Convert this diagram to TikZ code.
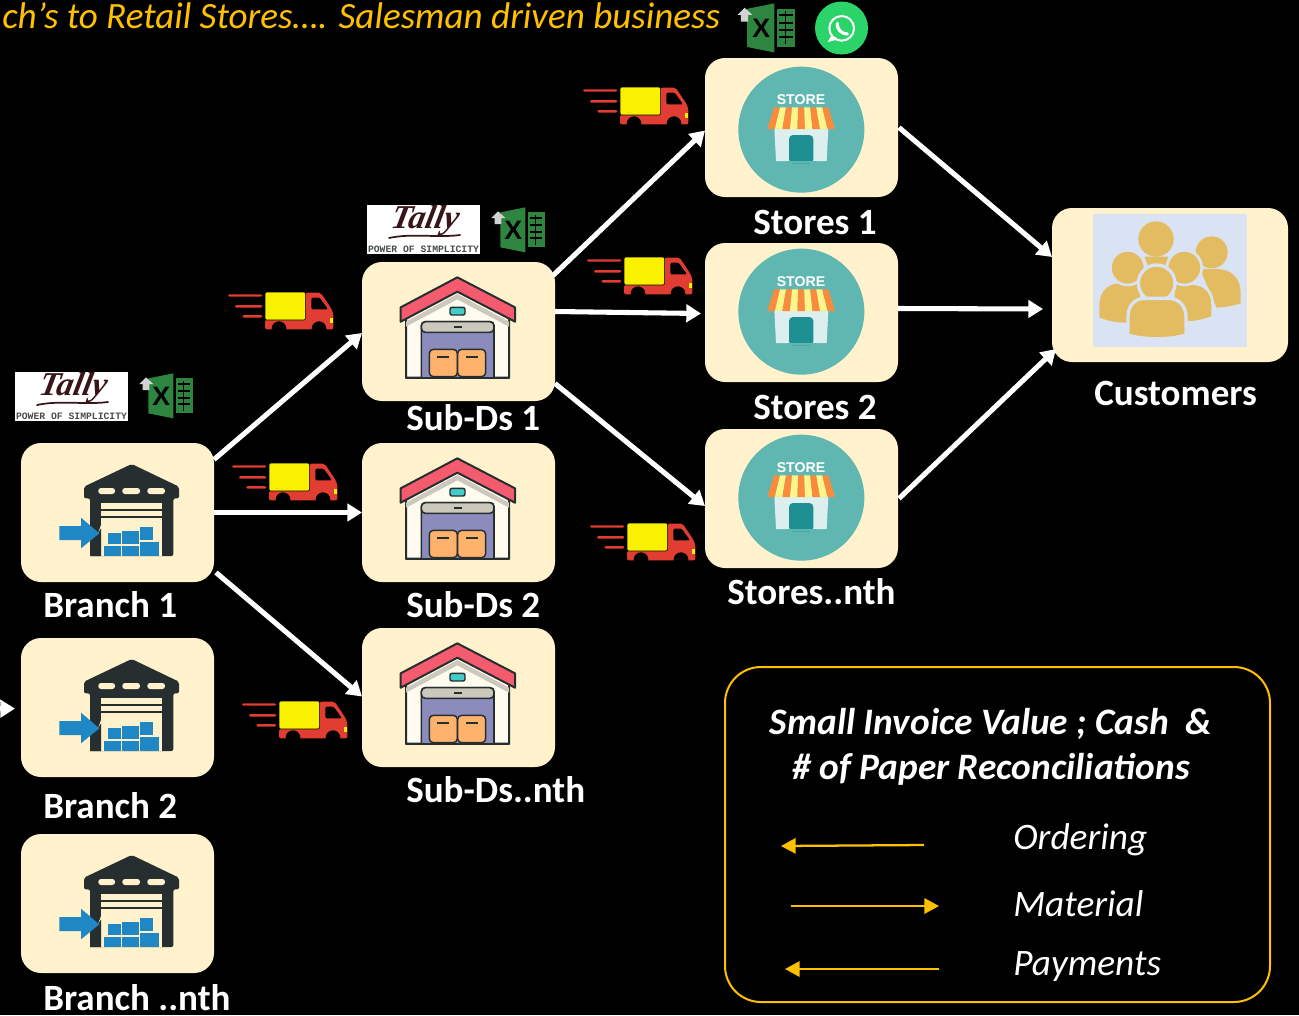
\documentclass[tikz,border=0pt]{standalone}
\usepackage{fontspec}
\setmainfont{Carlito}
\newfontfamily\tallyfont{Liberation Serif}
\newfontfamily\arialfont{Liberation Sans}
\newfontfamily\monofont{Liberation Mono}
\usetikzlibrary{arrows.meta}
\definecolor{cardc}{HTML}{FFF2CC}
\definecolor{goldc}{HTML}{FFC000}
\definecolor{darkc}{HTML}{262E30}
\definecolor{bluec}{HTML}{1F87C4}
\definecolor{redc}{HTML}{E23D32}
\definecolor{yelc}{HTML}{F9F100}
\definecolor{roofc}{HTML}{F45B6E}
\definecolor{wallc}{HTML}{FFFBEF}
\definecolor{lavc}{HTML}{8B8BBC}
\definecolor{grayc}{HTML}{CCC9BC}
\definecolor{orgc}{HTML}{FFB26B}
\definecolor{tealc}{HTML}{60B7B1}
\definecolor{doorc}{HTML}{1E8F92}
\definecolor{awnoc}{HTML}{FB8B3C}
\definecolor{awnyc}{HTML}{FFF58A}
\definecolor{bldc}{HTML}{DCEFEE}
\definecolor{custbg}{HTML}{DAE3F3}
\definecolor{peoplec}{HTML}{E3BC62}
\definecolor{xlc}{HTML}{2E8540}
\definecolor{wac}{HTML}{2AD468}
\definecolor{tallyc}{HTML}{3A1518}
\tikzset{
  x=.75pt,y=-.75pt,
  card/.style={fill=cardc,draw=none,rounded corners=15pt,minimum width=144.75pt,minimum height=104.25pt,inner sep=0pt,outer sep=0pt,anchor=north west},
  lbl/.style={text=white,font=\fontsize{27.8}{30}\selectfont\bfseries,anchor=base west,inner sep=0pt},
  flow/.style={draw=white,line width=3.8pt,-{Triangle[length=11pt,width=13pt]}},
  key/.style={draw=goldc,line width=1.7pt,-{Triangle[length=11pt,width=11.5pt]}},
  keytext/.style={text=white,font=\fontsize{28}{30}\selectfont\itshape,anchor=base west,inner sep=0pt},
  headtext/.style={text=white,font=\fontsize{28}{30}\selectfont\bfseries\itshape,anchor=base,inner sep=0pt},
}
% warehouse with blue boxes; #1,#2 = top left of the card
\newcommand\branchicon[2]{
\begin{scope}[shift={(#1-21,#2-83)},x=.25pt,y=-.25pt]
  \fill[darkc,rounded corners=1.5pt] (395,312) -- (537,380) -- (537,415) -- (520,415) -- (520,588) -- (270,588) -- (270,415) -- (252,415) -- (252,380) -- cycle;
  \fill[cardc] (303,430) rectangle (487,588);
  \fill[darkc] (303,446) rectangle (487,453);
  \fill[darkc] (303,469) rectangle (487,474);
  \foreach \a/\b in {295/345,367/420,442/495}
    \fill[cardc,rounded corners=2pt] (\a,384) rectangle (\b,402);
  \fill[cardc] (225,588) -- (270,588) -- (303,495) -- (320,495) -- (270,590) -- cycle;
  \fill[darkc] (270,560) -- (303,505) -- (303,588) -- (270,588) -- cycle;
  \foreach \a/\b/\c/\d in {313/557/362/587,366/557/416/587,420/545/476/587,323/518/362/553,366/512/416/553,420/500/460/541}
    \fill[bluec] (\a,\b) rectangle (\c,\d);
  \fill[bluec] (178,498) -- (243,498) -- (243,473) -- (298,520) -- (243,565) -- (243,540) -- (178,540) -- cycle;
\end{scope}}
% house with orange boxes
\newcommand\subicon[2]{
\begin{scope}[shift={(#1-12,#2-62)},x=.25pt,y=-.25pt]
  \draw[darkc,line width=1.5pt,fill=wallc] (168,350) -- (322,270) -- (477,350) -- (477,533) -- (168,533) -- cycle;
  \fill[grayc] (168,365) -- (322,282) -- (477,365) -- (477,380) -- (322,298) -- (168,380) -- cycle;
  \draw[darkc,line width=1.2pt,fill=lavc,rounded corners=3pt] (214,533) -- (214,365) -- (432,365) -- (432,533);
  \draw[darkc,line width=1.2pt,fill=grayc,rounded corners=3pt] (214,397) -- (214,365) -- (432,365) -- (432,397) -- cycle;
  \fill[darkc] (311,379) rectangle (335,383);
  \draw[darkc,line width=1.1pt,fill=orgc,rounded corners=3pt] (238,530) -- (238,448) -- (322,448) -- (322,530) -- cycle;
  \draw[darkc,line width=1.1pt,fill=orgc,rounded corners=3pt] (323,530) -- (323,448) -- (407,448) -- (407,530) -- cycle;
  \fill[darkc] (262,467) rectangle (298,473);
  \fill[darkc] (348,467) rectangle (384,473);
  \draw[darkc,line width=1.1pt,fill=tealc!70!cyan,rounded corners=1.5pt] (300,322) rectangle (345,345);
  \draw[darkc,line width=1.5pt,fill=roofc,line join=round] (322,232) -- (495,322) -- (495,365) -- (322,275) -- (152,365) -- (152,322) -- cycle;
  \draw[darkc,line width=1.5pt] (168,533) -- (477,533);
\end{scope}}
% store circle; #1,#2 = top left of the icon frame, #3 = node name
\newcommand\storeicon[3]{
\begin{scope}[shift={(#1-135,#2-58)},x=.25pt,y=-.25pt]
  \fill[tealc] (694,389) circle[radius=189];
  \node[text=white,font=\arialfont\bfseries\fontsize{10.6}{12}\selectfont,inner sep=0pt] (#3) at (693,300) {STORE};
  \fill[bldc] (613,385) -- (775,385) -- (770,483) -- (618,483) -- cycle;
  \fill[doorc,rounded corners=3pt] (657,490) -- (657,405) -- (730,405) -- (730,490) -- cycle;
  \fill[tealc] (650,483) rectangle (740,490);
  \foreach \i in {0,...,8}{
    \pgfmathsetmacro\ta{612+\i*18.1}\pgfmathsetmacro\tb{\ta+18.1}
    \pgfmathsetmacro\ba{592+\i*22.6}\pgfmathsetmacro\bb{\ba+22.6}
    \pgfmathparse{int(mod(\i,2))}
    \ifnum\pgfmathresult=0 \fill[awnoc] (\ta,322) -- (\tb,322) -- (\bb,387) -- (\ba,387) -- cycle;
    \else \fill[awnyc] (\ta,322) -- (\tb,322) -- (\bb,387) -- (\ba,387) -- cycle; \fi}
\end{scope}}
% truck; #1,#2 = start of the speed lines, top of the load
\newcommand\truckicon[2]{
\begin{scope}[shift={(#1-232.33,#2-102.67)},x=.25pt,y=-.25pt]
  \fill[redc,rounded corners=1pt] (697,315) rectangle (800,322);
  \fill[redc,rounded corners=1pt] (718,347) rectangle (800,355);
  \fill[redc,rounded corners=1pt] (740,377) rectangle (800,385);
  \fill[redc,rounded corners=1.5pt] (808,392) -- (930,392) -- (930,310) -- (975,310) -- (1005,355) -- (1013,372) -- (1013,420) -- (808,420) -- cycle;
  \fill[black,rounded corners=1pt] (947,325) -- (972,325) -- (997,360) -- (947,360) -- cycle;
  \fill[yelc,draw=black,line width=.4pt,rounded corners=1.5pt] (808,308) rectangle (930,392);
  \fill[yelc] (1002,385) rectangle (1012,400);
  \fill[black] (850,418) circle[radius=22];
  \fill[black] (970,418) circle[radius=22];
\end{scope}}
% excel mark; #1,#2 = top left, #3 = scale, #4 = node name
\newcommand\excelicon[4]{
\begin{scope}[shift={(#1,#2)},scale=#3,shift={(-140,-13)},x=.25pt,y=-.25pt]
  \fill[xlc] (445,55) -- (520,40) -- (520,175) -- (445,160) -- cycle;
  \fill[xlc] (527,55) rectangle (578,160);
  \foreach \v in {70,90,110,130}
    \fill[black] (534,\v) rectangle (571,\v+6);
  \fill[black] (550,62) rectangle (553,153);
  \node[text=black,font=\arialfont\bfseries\fontsize{20}{20}\selectfont,inner sep=0pt] (#4) at (484,108) {X};
  \fill[lightgray!70!white] (438,52) -- (460,72) -- (448,72) -- (448,90) -- (428,90) -- (428,72) -- (418,72) -- cycle;
\end{scope}}
% tally logo; #1,#2 = top left, #3 = node name prefix
\newcommand\tallyicon[3]{
\begin{scope}[shift={(#1,#2)}]
  \fill[white] (0,0) rectangle (113,49);
  \node[text=tallyc,font=\tallyfont\bfseries\itshape\fontsize{25}{25}\selectfont,inner sep=0pt,xslant=.2] (#3a) at (58,16) {Tally};
  \draw[tallyc,line width=1.3pt,line cap=round] (22,33) .. controls (45,28) and (70,33) .. (93,30);
  \node[text=darkc!85!white,font=\monofont\bfseries\fontsize{7.3}{8}\selectfont,inner sep=0pt] (#3b) at (56.5,44.5) {POWER OF SIMPLICITY};
\end{scope}}
\begin{document}
\begin{tikzpicture}
\clip (0,0) rectangle (1299,1015);
\fill[black] (0,0) rectangle (1299,1015);
% title
\node[text=goldc,font=\fontsize{27.85}{30}\selectfont\itshape,anchor=base west,inner sep=0pt] (title) at (2,28) {ch’s to Retail Stores…. Salesman driven business};
% cards
\node[card] (b1) at (21,443) {};
\node[card] (b2) at (21,638) {};
\node[card] (bn) at (21,834) {};
\node[card] (s1) at (362,262) {};
\node[card] (s2) at (362,443) {};
\node[card] (sn) at (362,628) {};
\node[card] (t1) at (705,58) {};
\node[card] (t2) at (705,243) {};
\node[card] (tn) at (705,429) {};
\node[card,minimum width=177pt,minimum height=115.5pt] (cust) at (1052,208) {};
% icons
\branchicon{21}{443}\branchicon{21}{638}\branchicon{21}{834}
\subicon{362}{262}\subicon{362}{443}\subicon{362}{628}
\storeicon{705}{58}{st1}\storeicon{705}{240}{st2}\storeicon{705}{426}{st3}
\truckicon{228}{292}\truckicon{232}{463}\truckicon{242}{701}
\truckicon{583}{87}\truckicon{587}{257}\truckicon{590}{523}
\tallyicon{15}{372}{ta}\tallyicon{367}{205}{tb}
\excelicon{140}{373}{1}{xa}\excelicon{492}{207}{1}{xb}\excelicon{738}{3}{1.09}{xc}
% whatsapp
\fill[wac] (841.5,28) circle[radius=26.5];
\begin{scope}[shift={(570,0)},x=.25pt,y=-.25pt]
  \draw[white,line width=1.5pt] (815,85) circle[radius=37];
  \fill[white] (785,105) -- (773,126) -- (806,118) -- cycle;
  \draw[white,line width=2.4pt,line cap=round] (802,70) .. controls (800,88) and (815,102) .. (832,102);
\end{scope}
% customers
\fill[custbg] (1093,214) rectangle (1247,347);
\begin{scope}[shift={(1040,200)},x=.25pt,y=-.25pt]
  \fill[peoplec] (348,117) circle[radius=53];
  \fill[peoplec] (313,170) -- (385,170) -- (375,200) -- (325,200) -- cycle;
  \fill[peoplec] (515,157) circle[radius=48];
  \fill[peoplec] (480,207) -- (530,207) .. controls (575,207) and (602,235) .. (602,280) -- (602,310) .. controls (580,318) and (550,322) .. (530,323) -- cycle;
  \draw[custbg,line width=2pt,fill=peoplec] (400,250) -- (450,250) .. controls (495,250) and (518,275) .. (518,315) -- (518,352) .. controls (495,362) and (465,367) .. (440,368) -- (400,368) -- cycle;
  \fill[peoplec] (300,250) -- (240,250) .. controls (200,250) and (178,280) .. (178,315) -- (178,352) .. controls (200,362) and (225,367) .. (255,368) -- (300,368) -- cycle;
  \draw[custbg,line width=2pt,fill=peoplec] (263,203) circle[radius=52];
  \draw[custbg,line width=2pt,fill=peoplec] (433,203) circle[radius=52];
  \draw[custbg,line width=2.5pt,fill=peoplec] (350,250) circle[radius=55];
  \draw[custbg,line width=2.5pt,fill=peoplec] (315,295) -- (385,295) .. controls (420,295) and (438,322) .. (438,350) -- (438,405) .. controls (390,420) and (310,420) .. (264,405) -- (264,350) .. controls (264,322) and (280,295) .. (315,295) -- cycle;
\end{scope}
% labels
\node[lbl] (lb1) at (43,617) {Branch 1};
\node[lbl] (lb2) at (43,818) {Branch 2};
\node[lbl] (lbn) at (43,1010) {Branch ..nth};
\node[lbl] (ls1) at (406,430) {Sub-Ds 1};
\node[lbl] (ls2) at (406,617) {Sub-Ds 2};
\node[lbl] (lsn) at (406,802) {Sub-Ds..nth};
\node[lbl] (lt1) at (753,234) {Stores 1};
\node[lbl] (lt2) at (753,419) {Stores 2};
\node[lbl] (ltn) at (727,604) {Stores..nth};
\node[lbl] (lc) at (1094,405) {Customers};
% connectors
\coordinate (offleft) at (-25,709);
\draw[flow] (offleft) -- ([shift={(-6,1)}]b2.west);
\draw[flow] ([shift={(0,-53)}]b1.east) -- ([shift={(0,1.5)}]s1.west);
\draw[flow] ([shift={(0,0)}]b1.east) -- ([shift={(0,0)}]s2.west);
\draw[flow] ([shift={(2,60)}]b1.east) -- ([shift={(0,-1)}]sn.west);
\draw[flow] ([shift={(-2,-56)}]s1.east) -- ([shift={(0,3)}]t1.west);
\draw[flow] ([shift={(0,-20)}]s1.east) -- ([shift={(-4,1)}]t2.west);
\draw[flow] ([shift={(0,52)}]s1.east) -- ([shift={(0,7.5)}]tn.west);
\draw[flow] ([shift={(1,0)}]t1.east) -- ([shift={(0,-28)}]cust.west);
\draw[flow] ([shift={(0,-4)}]t2.east) -- ([shift={(-9,24)}]cust.west);
\draw[flow] ([shift={(1,0)}]tn.east) -- ([shift={(4,-13)}]cust.south west);
% legend
\node[draw=goldc,line width=1.5pt,rounded corners=27pt,outer sep=0pt,minimum width=408.75pt,minimum height=251.25pt,anchor=north west,inner sep=0pt] (legend) at (725,667) {};
\node[headtext] (h1) at (991,734) {Small Invoice Value ; Cash\ \ \&};
\node[headtext] (h2) at (991,779) {\# of Paper Reconciliations};
\node[keytext] (k1) at (1013,849) {Ordering};
\node[keytext] (k2) at (1013,916) {Material};
\node[keytext] (k3) at (1013,975) {Payments};
\coordinate (k1a) at (924,845);\coordinate (k1b) at (781,846);
\coordinate (k2a) at (791,906);\coordinate (k2b) at (939,906);
\coordinate (k3a) at (939,969);\coordinate (k3b) at (785,969);
\draw[key] (k1a) -- (k1b);
\draw[key] (k2a) -- (k2b);
\draw[key] (k3a) -- (k3b);
\end{tikzpicture}
\end{document}
